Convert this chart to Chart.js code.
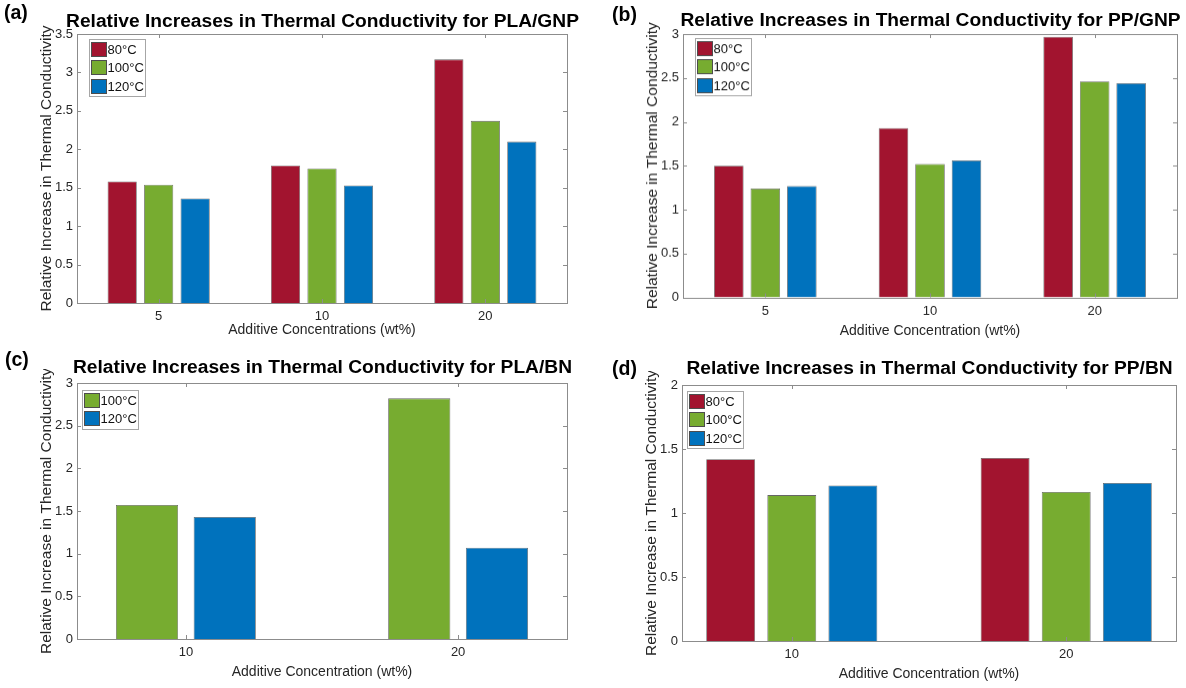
<!DOCTYPE html>
<html>
<head>
<meta charset="utf-8">
<script src="https://cdn.jsdelivr.net/npm/chart.js@4.4.0/dist/chart.umd.min.js"></script>
<style>
  html, body { margin: 0; padding: 0; background: #fff; }
  body { width: 1186px; height: 688px; position: relative; overflow: hidden; font-family: "Liberation Sans", Arial, sans-serif; }
  canvas { position: absolute; }
  .title { position: absolute; font-weight: bold; font-size: 19.2px; line-height: 20px; text-align: center; white-space: nowrap; color: #000; transform: translateX(-50%); }
  .tag { position: absolute; font-weight: bold; font-size: 19.5px; line-height: 20px; color: #000; }
</style>
</head>
<body>
<script>
// categories and series
const gnpConc = ['5', '10', '20'];
const bnConc = ['10', '20'];
const temps = ['80°C', '100°C', '120°C'];

const plaGnp80 = [1.58, 1.79, 3.17];
const plaGnp100 = [1.54, 1.75, 2.37];
const plaGnp120 = [1.36, 1.53, 2.10];

const ppGnp80 = [1.50, 1.93, 2.97];
const ppGnp100 = [1.24, 1.52, 2.46];
const ppGnp120 = [1.27, 1.56, 2.44];

const plaBn100 = [1.57, 2.82];
const plaBn120 = [1.43, 1.07];

const ppBn80 = [1.42, 1.43];
const ppBn100 = [1.14, 1.165];
const ppBn120 = [1.215, 1.235];

const yTitle = 'Relative Increase in Thermal Conductivity';
const tempColors = { '80°C': '#A2142F', '100°C': '#77AC30', '120°C': '#0072BD' };

const panels = [
  { tag: '(a)', title: 'Relative Increases in Thermal Conductivity for PLA/GNP', xTitle: 'Additive Concentrations (wt%)',
    cats: gnpConc, temps: temps, series: [plaGnp80, plaGnp100, plaGnp120], yMax: 3.5, xLim: [0.5, 3.5] },
  { tag: '(b)', title: 'Relative Increases in Thermal Conductivity for PP/GNP', xTitle: 'Additive Concentration (wt%)',
    cats: gnpConc, temps: temps, series: [ppGnp80, ppGnp100, ppGnp120], yMax: 3, xLim: [0.5, 3.5] },
  { tag: '(c)', title: 'Relative Increases in Thermal Conductivity for PLA/BN', xTitle: 'Additive Concentration (wt%)',
    cats: bnConc, temps: ['100°C', '120°C'], series: [plaBn100, plaBn120], yMax: 3, xLim: [0.6, 2.4] },
  { tag: '(d)', title: 'Relative Increases in Thermal Conductivity for PP/BN', xTitle: 'Additive Concentration (wt%)',
    cats: bnConc, temps: temps, series: [ppBn80, ppBn100, ppBn120], yMax: 2, xLim: [0.6, 2.4] }
];

// where each axes box sits on the page
const layouts = [
  { l: 77, t: 34, r: 567, b: 303, xh: 36, lg: { dx: 12, dy: 5 }, cp: 0.67, bp: 0.80, tag: [4, 2], titleTop: 11 },
  { l: 683, t: 34, r: 1177, b: 297, xh: 42.5, lg: { dx: 11.5, dy: 4 }, cp: 0.665, bp: 0.81, tag: [612, 4], titleTop: 10 },
  { l: 77, t: 383, r: 567, b: 639, xh: 42, lg: { dx: 4.5, dy: 6.5 }, cp: 0.571, bp: 0.80, tag: [5, 349], titleTop: 356.5 },
  { l: 682, t: 385, r: 1176, b: 641, xh: 42, lg: { dx: 5, dy: 5.5 }, cp: 0.668, bp: 0.80, tag: [612, 357.5], titleTop: 358 }
];

Chart.defaults.font.family = '"Liberation Sans", Arial, sans-serif';
Chart.defaults.color = '#262626';

// matlab-ish box, inward ticks and boxed legend
const matlabFrame = {
  id: 'matlabFrame',
  afterDraw(chart, args, opts) {
    const { ctx, chartArea: a, scales: { x, y } } = chart;
    ctx.save();
    ctx.strokeStyle = '#8c8c8c';
    ctx.lineWidth = 1;
    ctx.beginPath();
    const tl = 4;
    y.ticks.forEach(t => {
      const py = Math.round(y.getPixelForValue(t.value)) + 0.5;
      ctx.moveTo(a.left, py); ctx.lineTo(a.left + tl, py);
      ctx.moveTo(a.right, py); ctx.lineTo(a.right - tl, py);
    });
    x.ticks.forEach(t => {
      const px = Math.round(x.getPixelForValue(t.value)) + 0.5;
      ctx.moveTo(px, a.bottom); ctx.lineTo(px, a.bottom - tl);
      ctx.moveTo(px, a.top); ctx.lineTo(px, a.top + tl);
    });
    ctx.stroke();
    ctx.strokeRect(Math.round(a.left) + 0.5, Math.round(a.top) + 0.5, Math.round(a.width), Math.round(a.height));

    // legend
    const items = chart.data.datasets;
    ctx.font = '13px "Liberation Sans", Arial, sans-serif';
    const textW = Math.max(...items.map(d => ctx.measureText(d.label).width));
    const bx = Math.round(a.left + opts.dx), by = Math.round(a.top + opts.dy);
    const rowH = 18.5;
    const bw = Math.round(18.5 + textW + 1.5), bh = Math.round(items.length * rowH + 1.5);
    ctx.fillStyle = '#fff';
    ctx.fillRect(bx, by, bw, bh);
    ctx.strokeStyle = '#a6a6a6';
    ctx.strokeRect(bx + 0.5, by + 0.5, bw, bh);
    items.forEach((d, i) => {
      const sy = Math.round(by + 2.5 + i * rowH);
      ctx.fillStyle = d.backgroundColor;
      ctx.fillRect(bx + 2, sy, 16, 15);
      ctx.strokeStyle = '#4d4d4d';
      ctx.strokeRect(bx + 2.5, sy + 0.5, 15, 14);
      ctx.fillStyle = '#111';
      ctx.textBaseline = 'middle';
      ctx.textAlign = 'left';
      ctx.fillText(d.label, bx + 18.5, sy + 8);
    });
    ctx.restore();
  }
};

panels.forEach((p, k) => {
  const L = layouts[k];
  const canvas = document.createElement('canvas');
  const w = L.r - L.l + 52, h = L.b - L.t + 18 + L.xh;
  canvas.width = w; canvas.height = h;
  canvas.style.width = w + 'px'; canvas.style.height = h + 'px';
  canvas.style.left = (L.l - 44) + 'px';
  canvas.style.top = (L.t - 14) + 'px';
  document.body.appendChild(canvas);

  const title = document.createElement('div');
  title.className = 'title';
  title.textContent = p.title;
  title.style.left = ((L.l + L.r) / 2 + 0.5) + 'px';
  title.style.top = L.titleTop + 'px';
  document.body.appendChild(title);

  const tag = document.createElement('div');
  tag.className = 'tag';
  tag.textContent = p.tag;
  tag.style.left = L.tag[0] + 'px';
  tag.style.top = L.tag[1] + 'px';
  document.body.appendChild(tag);

  const datasets = p.series.map((vals, i) => ({
    label: p.temps[i],
    data: vals.map((v, j) => ({ x: j + 1, y: v })),
    backgroundColor: tempColors[p.temps[i]],
    borderColor: '#666666',
    borderWidth: 0.8,
    categoryPercentage: L.cp,
    barPercentage: L.bp
  }));

  new Chart(canvas, {
    type: 'bar',
    data: { datasets },
    plugins: [matlabFrame],
    options: {
      responsive: false,
      animation: false,
      devicePixelRatio: 1,
      layout: { padding: { left: 4, top: 14, right: 8, bottom: 4 } },
      plugins: {
        legend: { display: false },
        tooltip: { enabled: false },
        matlabFrame: L.lg
      },
      scales: {
        x: {
          type: 'linear',
          offset: false,
          min: p.xLim[0],
          max: p.xLim[1],
          grid: { display: false, drawTicks: false },
          border: { display: false },
          afterBuildTicks: s => { s.ticks = p.cats.map((c, i) => ({ value: i + 1 })); },
          ticks: { padding: 6, font: { size: 13 }, maxRotation: 0, autoSkip: false, callback: v => p.cats[v - 1] ?? '' },
          title: { display: true, text: p.xTitle, font: { size: 14 }, padding: 0 },
          afterFit: s => { s.height = L.xh; }
        },
        y: {
          min: 0,
          max: p.yMax,
          grid: { display: false, drawTicks: false },
          border: { display: false },
          ticks: { stepSize: 0.5, padding: 4, font: { size: 13 }, callback: v => String(v) },
          title: { display: true, text: yTitle, font: { size: 15.5 }, padding: 0 },
          afterFit: s => { s.width = 40; }
        }
      }
    }
  });
});
</script>
</body>
</html>
